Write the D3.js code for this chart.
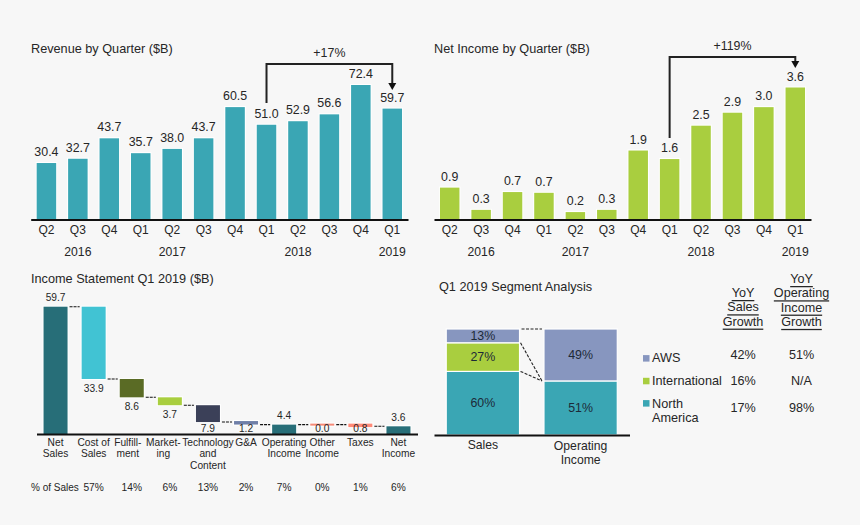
<!DOCTYPE html>
<html>
<head>
<meta charset="utf-8">
<script src="https://cdn.jsdelivr.net/npm/d3@7"></script>
<style>
html, body { margin: 0; padding: 0; background: #f7f7f7; }
svg { display: block; }
text { font-family: "Liberation Sans", Arial, sans-serif; fill: #262626; }
.bar { paint-order: stroke; }
</style>
</head>
<body>
<svg id="chart" width="860" height="525"></svg>
<script>
const quarters = ["Q2", "Q3", "Q4", "Q1", "Q2", "Q3", "Q4", "Q1", "Q2", "Q3", "Q4", "Q1"];
const revenue = [30.4, 32.7, 43.7, 35.7, 38.0, 43.7, 60.5, 51.0, 52.9, 56.6, 72.4, 59.7];
const netIncome = [0.86, 0.26, 0.74, 0.72, 0.2, 0.26, 1.86, 1.63, 2.53, 2.88, 3.03, 3.56];
const years = ["2016", "2017", "2018", "2019"];
const yearAnchor = [1, 4, 8, 11]; // quarter index each year label sits under

const stmtLabels = [["Net", "Sales"], ["Cost of", "Sales"], ["Fulfill-", "ment"], ["Market-", "ing"],
    ["Technology", "and", "Content"], ["G&A"], ["Operating", "Income"], ["Other", "Income"], ["Taxes"], ["Net", "Income"]];
const stmtValues = [59.7, 33.9, 8.6, 3.7, 7.9, 1.2, 4.4, 0.0, 0.8, 3.6];
const stmtIsTotal = [true, false, false, false, false, false, true, false, false, true];
const stmtPct = ["57%", "14%", "6%", "13%", "2%", "7%", "0%", "1%", "6%"];
const stmtColors = ["#276e78", "#41c3d3", "#5a6b25", "#a9ce3f", "#3b4058", "#6f7fa8", "#276e78", "#f58a78", "#ff8a78", "#276e78"];

const segments = ["North America", "International", "AWS"];
const segColumns = ["Sales", "Operating Income"];
const salesShare = [60, 27, 13];
const opIncomeShare = [51, 0, 49];
const segColors = ["#3aa6b4", "#a9ce3f", "#8796bf"];
const salesGrowth = ["17%", "16%", "42%"];
const opGrowth = ["98%", "N/A", "51%"];

const svg = d3.select("#chart");
const BLACK = "#111";

function addText(x, y, str, size, anchor) {
    return svg.append("text")
        .attr("x", x).attr("y", y)
        .attr("dominant-baseline", "central")
        .attr("text-anchor", anchor || "middle")
        .style("font-size", size + "px")
        .text(str);
}

function bottomAxis(scale, y, tickFn) {
    const g = svg.append("g")
        .attr("transform", `translate(0,${y})`)
        .call(d3.axisBottom(scale).tickSize(0).tickFormat(tickFn));
    g.select(".domain").attr("stroke", BLACK).attr("stroke-width", 2);
    return g;
}

// --- QUARTER BAR PANELS ---
function quarterPanel(opts) {
    const x = d3.scaleBand().domain(d3.range(opts.values.length)).range(opts.xRange)
        .paddingInner(0.38).paddingOuter(0.19);
    const y = d3.scaleLinear().domain([0, opts.maxVal]).range([219.5, 219.5 - opts.maxPx]);

    addText(opts.titleX, 48.5, opts.title, 12.7, "start");

    svg.append("g").selectAll("rect").data(opts.values).join("rect")
        .attr("class", "bar")
        .attr("x", (d, i) => x(i))
        .attr("y", d => y(d))
        .attr("width", x.bandwidth())
        .attr("height", d => y(0) - y(d))
        .attr("fill", opts.color)
        .attr("stroke", "#fff").attr("stroke-width", 2);

    svg.append("g").selectAll("text").data(opts.values).join("text")
        .attr("x", (d, i) => x(i) + x.bandwidth() / 2)
        .attr("y", d => y(d) - 11)
        .attr("dominant-baseline", "central")
        .attr("text-anchor", "middle")
        .style("font-size", "12.4px")
        .text(d => d.toFixed(1));

    const axis = bottomAxis(x, 219.5, i => quarters[i]);
    axis.selectAll("text").attr("y", 10.5).attr("dy", 0)
        .attr("dominant-baseline", "central")
        .style("font-size", "12px").style("font-family", null);

    years.forEach((yr, i) => {
        addText(x(yearAnchor[i]) + x.bandwidth() / 2, 251.5, yr, 12.2);
    });

    // growth bracket from first Q1 2018 to Q1 2019
    const x0 = x(7) + x.bandwidth() / 2;
    const x1 = x(11) + x.bandwidth() / 2;
    svg.append("path")
        .attr("d", d3.line()([[x0, opts.bracketFrom], [x0, opts.bracketTop], [x1, opts.bracketTop], [x1, opts.bracketTo - 5]]))
        .attr("fill", "none").attr("stroke", "#222").attr("stroke-width", 2);
    svg.append("path")
        .attr("d", d3.line()([[x1 - 4, opts.bracketTo - 6], [x1 + 4, opts.bracketTo - 6], [x1, opts.bracketTo + 1]]))
        .attr("fill", "#111");
    addText((x0 + x1) / 2, opts.bracketTop - 11, opts.growth, 12.4);
}

quarterPanel({
    values: revenue, maxVal: 72.4, maxPx: 134.5, xRange: [30.7, 408], color: "#3aa6b4",
    title: "Revenue by Quarter ($B)", titleX: 31, growth: "+17%",
    bracketFrom: 103, bracketTop: 64, bracketTo: 89
});
quarterPanel({
    values: netIncome, maxVal: 3.56, maxPx: 132, xRange: [434, 811], color: "#a9ce3f",
    title: "Net Income by Quarter ($B)", titleX: 434, growth: "+119%",
    bracketFrom: 138, bracketTop: 57, bracketTo: 67
});

// --- INCOME STATEMENT WATERFALL ---
(function () {
    const base = 434;
    const x = d3.scaleBand().domain(d3.range(stmtValues.length)).range([36.5, 417.5])
        .paddingInner(0.37).paddingOuter(0.185);
    const y = d3.scaleLinear().domain([0, 59.7]).range([base, 306.7]);

    let level = 0;
    const steps = stmtValues.map((v, i) => {
        if (stmtIsTotal[i]) { level = v; return { v, hi: v, lo: 0, end: v, total: true }; }
        const hi = level;
        level = +(level - v).toFixed(1);
        return { v, hi, lo: level, end: level, total: false };
    });

    addText(31, 279, "Income Statement Q1 2019 ($B)", 12.7, "start");

    // thin steps stay visible: a floor on the drawn height
    svg.append("g").selectAll("rect").data(steps).join("rect")
        .attr("class", "bar")
        .attr("x", (d, i) => x(i))
        .attr("y", d => y(d.hi) - (d.v < 2 ? 1 : 0))
        .attr("width", x.bandwidth())
        .attr("height", d => Math.max(y(d.lo) - y(d.hi), d.v > 0 ? 3.5 : 2))
        .attr("fill", (d, i) => stmtColors[i])
        .attr("stroke", "#fff").attr("stroke-width", 2);

    svg.append("g").selectAll("line").data(steps.slice(0, -1)).join("line")
        .attr("x1", (d, i) => x(i) + x.bandwidth() + 2)
        .attr("x2", (d, i) => x(i + 1) - 2)
        .attr("y1", d => y(d.end))
        .attr("y2", d => y(d.end))
        .attr("stroke", BLACK).attr("stroke-width", 1.1)
        .attr("stroke-dasharray", "3,1");

    svg.append("g").selectAll("text").data(steps).join("text")
        .attr("x", (d, i) => x(i) + x.bandwidth() / 2)
        .attr("y", d => d.total ? y(d.hi) - 9 : Math.min(y(d.lo) + 9.5, 428.5))
        .attr("dominant-baseline", "central")
        .attr("text-anchor", "middle")
        .style("font-size", "10.2px")
        .text(d => d.v.toFixed(1));

    const axis = bottomAxis(x, base, () => "");
    axis.selectAll("text").remove();

    // the hyphenated labels sit left of their bars so they clear "Technology"
    const labelShift = i => (i === 2 ? -4 : i === 3 ? -6.5 : 0);
    stmtLabels.forEach((lines, i) => {
        lines.forEach((line, j) => {
            addText(x(i) + x.bandwidth() / 2 + labelShift(i), 442.5 + j * 11.4, line, 10.2);
        });
    });

    addText(31, 487.5, "% of Sales", 10, "start");
    stmtPct.forEach((p, i) => {
        addText(x(i + 1) + x.bandwidth() / 2, 487.5, p, 10.2);
    });
})();

// --- SEGMENT ANALYSIS ---
(function () {
    const base = 435;
    const x = d3.scaleBand().domain(segColumns).range([434, 629.5])
        .paddingInner(0.25).paddingOuter(0.125);
    const y = d3.scaleLinear().domain([0, 100]).range([base, 329]);

    addText(439, 286.5, "Q1 2019 Segment Analysis", 12.7, "start");

    const rows = segColumns.map((c, i) => {
        const shares = i === 0 ? salesShare : opIncomeShare;
        const row = { column: c };
        segments.forEach((s, k) => { row[s] = shares[k]; });
        return row;
    });
    const series = d3.stack().keys(segments)(rows);

    const groups = svg.append("g").selectAll("g").data(series).join("g")
        .attr("fill", (d, i) => segColors[i]);
    groups.selectAll("rect").data(d => d.filter(p => p[1] > p[0])).join("rect")
        .attr("x", d => x(d.data.column))
        .attr("y", d => y(d[1]))
        .attr("width", x.bandwidth())
        .attr("height", d => y(d[0]) - y(d[1]))
        .attr("stroke", "#fff").attr("stroke-width", 1.2);
    groups.selectAll("text").data(d => d.filter(p => p[1] > p[0])).join("text")
        .attr("x", d => x(d.data.column) + x.bandwidth() / 2)
        .attr("y", d => (y(d[0]) + y(d[1])) / 2)
        .attr("dominant-baseline", "central")
        .attr("text-anchor", "middle")
        .style("font-size", "12.4px")
        .style("fill", "#1d2a38")
        .text(d => (d[1] - d[0]) + "%");

    // dashed links between the sales stack and the operating income stack
    const rightEdge = x("Sales") + x.bandwidth();
    const leftEdge = x("Operating Income");
    const links = [
        [[rightEdge + 2, y(100)], [leftEdge - 2, y(100)]],
        [[rightEdge + 1, y(salesShare[0] + salesShare[1])], [leftEdge - 2, y(opIncomeShare[0])]],
        [[rightEdge + 1, y(salesShare[0])], [leftEdge - 2, y(opIncomeShare[0])]]
    ];
    svg.append("g").selectAll("path").data(links).join("path")
        .attr("d", d => d3.line()(d))
        .attr("fill", "none").attr("stroke", "#222").attr("stroke-width", 1.1)
        .attr("stroke-dasharray", "3,1.5");

    const axis = bottomAxis(x, base, () => "");
    axis.selectAll("text").remove();
    addText(x("Sales") + x.bandwidth() / 2, 445, "Sales", 12.2);
    addText(x("Operating Income") + x.bandwidth() / 2, 445.5, "Operating", 12.2);
    addText(x("Operating Income") + x.bandwidth() / 2, 459.5, "Income", 12.2);

    // column headers
    const col1 = 743, col2 = 801.5;
    ["YoY", "Sales", "Growth"].forEach((t, i) => {
        addText(col1, 293 + i * 14.3, t, 12.6).style("text-decoration", "underline");
    });
    ["YoY", "Operating", "Income", "Growth"].forEach((t, i) => {
        addText(col2, 279 + i * 14.3, t, 12.6).style("text-decoration", "underline");
    });

    // legend and table, top row first
    const rowY = d3.scaleOrdinal().domain(segments).range([407.5, 381, 355]);
    const swatchY = d3.scaleOrdinal().domain(segments).range([403.3, 381, 358.3]);
    segments.forEach((s, k) => {
        svg.append("rect")
            .attr("x", 643).attr("y", swatchY(s) - 3.2)
            .attr("width", 6.5).attr("height", 6.5)
            .attr("fill", segColors[k]);
        addText(743, rowY(s), salesGrowth[k], 12.6);
        addText(801.5, rowY(s), opGrowth[k], 12.6);
    });
    addText(652, 358, "AWS", 12.7, "start");
    addText(652, 381, "International", 12.7, "start");
    addText(652, 403.5, "North", 12.7, "start");
    addText(652, 417.5, "America", 12.7, "start");
})();
</script>
</body>
</html>
